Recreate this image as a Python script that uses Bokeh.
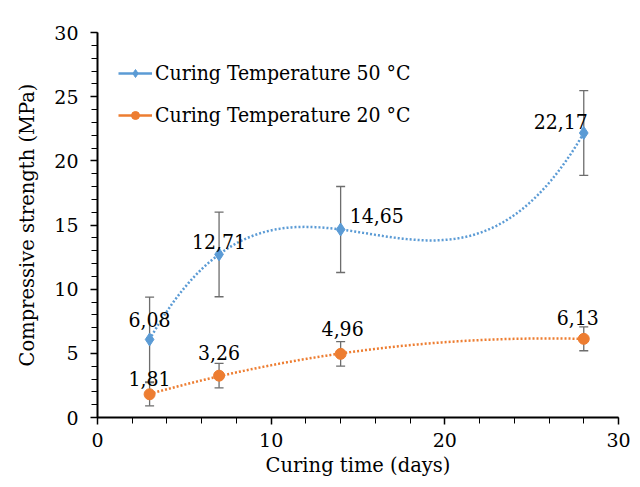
import numpy as np
from bokeh.plotting import figure
from bokeh.models import (Range1d, ColumnDataSource, Whisker, TeeHead, Legend, LegendItem,
                          SingleIntervalTicker)
from bokeh.core.properties import value
from bokeh.embed import file_html
from bokeh.resources import INLINE

# ---- data ----
days = [3, 7, 14, 28]
s50 = [6.08, 12.71, 14.65, 22.17]
s50_err = [3.3, 3.3, 3.35, 3.3]
s20 = [1.81, 3.26, 4.96, 6.13]
s20_err = [0.9, 0.95, 0.95, 0.93]
labels50 = ["6,08", "12,71", "14,65", "22,17"]
labels20 = ["1,81", "3,26", "4,96", "6,13"]
name50 = "Curing Temperature 50 °C"
name20 = "Curing Temperature 20 °C"

off50_x = [0, 0, 9, 4]
off50_y = [-20, -13, -14, -11]
align50 = ["center", "center", "left", "right"]
off20_x = [0, 0, 2, -6]
off20_y = [-16, -23, -25, -21]

BLUE = "#5B9BD5"
ORANGE = "#ED7D31"
GREY = "#6d6d6d"
FONT_A = "DejaVu Serif"
FONT_C = "DejaVu Serif Condensed"

p = figure(width=632, height=479, output_backend="svg", toolbar_location=None,
           x_range=Range1d(0, 30), y_range=Range1d(0, 30),
           min_border_left=97, min_border_right=14, min_border_top=32, min_border_bottom=59)
p.outline_line_color = None
p.xgrid.visible = False
p.ygrid.visible = False

for ax in (p.xaxis[0], p.yaxis[0]):
    ax.axis_line_color = "black"
    ax.axis_line_width = 2
    ax.major_tick_line_color = "black"
    ax.minor_tick_line_color = "black"
    ax.major_tick_line_width = 1.5
    ax.minor_tick_line_width = 1
    ax.major_tick_in = 0
    ax.minor_tick_in = 0
    ax.major_tick_out = 7
    ax.minor_tick_out = 6
    ax.major_label_text_font = FONT_A
    ax.major_label_text_font_size = "19px"
    ax.major_label_text_color = "black"
    ax.axis_label_text_font = FONT_A
    ax.axis_label_text_font_size = "19.5px"
    ax.axis_label_text_font_style = "normal"
    ax.axis_label_text_color = "black"

p.xaxis.ticker = SingleIntervalTicker(interval=10, num_minor_ticks=5)
p.yaxis.ticker = SingleIntervalTicker(interval=5, num_minor_ticks=5)
p.xaxis.axis_label = "Curing time (days)"
p.yaxis.axis_label = "Compressive strength (MPa)"
p.xaxis.major_label_standoff = 8
p.yaxis.major_label_standoff = 12
p.xaxis.axis_label_standoff = 4
p.yaxis.axis_label_standoff = 12

xs = np.linspace(min(days), max(days), 200)
c50 = np.polyfit(days, s50, 3)
c20 = np.polyfit(days, s20, 2)
p.line(xs, np.polyval(c50, xs), line_color=BLUE, line_width=2.5, line_dash="2 2")
p.line(xs, np.polyval(c20, xs), line_color=ORANGE, line_width=2.5, line_dash="2 2")

src50 = ColumnDataSource(dict(x=days, y=s50,
                              lo=[v - e for v, e in zip(s50, s50_err)],
                              hi=[v + e for v, e in zip(s50, s50_err)],
                              lab=labels50, dx=off50_x, dy=off50_y, al=align50))
src20 = ColumnDataSource(dict(x=days, y=s20,
                              lo=[v - e for v, e in zip(s20, s20_err)],
                              hi=[v + e for v, e in zip(s20, s20_err)],
                              lab=labels20, dx=off20_x, dy=off20_y))

for src in (src50, src20):
    w = Whisker(base="x", upper="hi", lower="lo", source=src, line_color=GREY, line_width=1.3,
                upper_head=TeeHead(size=9, line_color=GREY, line_width=1.3),
                lower_head=TeeHead(size=9, line_color=GREY, line_width=1.3))
    p.add_layout(w)

l50 = p.line([np.nan], [np.nan], line_color=BLUE, line_width=2.5)
l20 = p.line([np.nan], [np.nan], line_color=ORANGE, line_width=2.5)

m50 = p.scatter("x", "y", source=src50, marker="diamond", size=13, fill_color=BLUE, line_color=BLUE)
m20 = p.scatter("x", "y", source=src20, marker="circle", size=11, fill_color=ORANGE, line_color=ORANGE)

p.text(x="x", y="y", text="lab", source=src50, x_offset="dx", y_offset="dy",
       text_align="al", text_baseline="middle", text_font=value(FONT_C),
       text_font_size="21px", text_color="black")
p.text(x="x", y="y", text="lab", source=src20, x_offset="dx", y_offset="dy",
       text_align="center", text_baseline="middle", text_font=value(FONT_C),
       text_font_size="21px", text_color="black")

legend = Legend(items=[LegendItem(label=name50, renderers=[l50, m50]),
                       LegendItem(label=name20, renderers=[l20, m20])],
                location=(21, 290), orientation="vertical",
                border_line_color=None, background_fill_alpha=0,
                padding=0, margin=0, spacing=18, glyph_width=34, glyph_height=20,
                label_height=20, label_standoff=3,
                label_text_font=FONT_C, label_text_font_size="21px", label_text_color="black")
p.add_layout(legend)

open("out.html", "w").write(file_html(p, INLINE))
